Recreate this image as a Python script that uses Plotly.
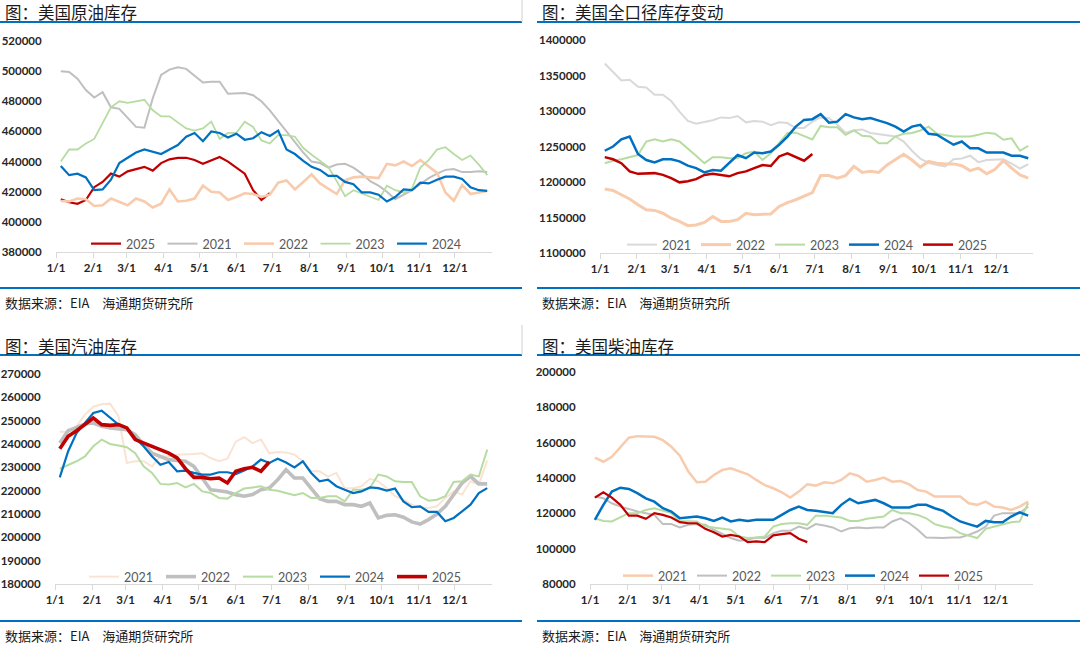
import plotly.graph_objects as go

# ---------------- data ----------------
MONTH_TICKS = [0, 31, 59, 90, 120, 151, 181, 212, 243, 273, 304, 334]
MONTH_LABELS = ["1/1", "2/1", "3/1", "4/1", "5/1", "6/1", "7/1", "8/1", "9/1", "10/1", "11/1", "12/1"]

# US crude oil inventories (thousand barrels), weekly
crude_2021 = [500000,499500,495000,487500,482500,486000,476000,475000,469000,463000,462500,482000,497500,501000,502500,501500,497000,492500,493000,493000,485000,485000,485500,484000,480000,474000,467000,460000,453000,446000,440000,439000,436000,438000,438500,436000,432000,427000,424000,420000,415000,418000,421000,425000,429000,432000,434500,435000,433000,433000,433500,433000]
crude_2022 = [413800,413500,415500,415000,410500,411000,415500,413500,411000,415500,413500,409500,412000,421500,413500,414000,415500,424000,420000,419500,414500,416500,419000,418500,416500,418000,426000,427500,421500,426500,431500,425500,422000,418500,427500,429500,430000,429500,429000,438500,437500,440000,437000,441000,436500,432500,419500,414000,424500,418500,419500,420500]
crude_2023 = [440000,448000,448000,452000,455000,466000,476000,480000,479000,480000,481000,474000,470000,470000,466000,462000,460500,462000,466500,455000,459000,459000,466500,463000,454000,452000,457500,457500,456500,449000,444500,440500,436500,427000,417000,421000,419000,416500,414500,424000,421000,419500,422000,436000,441000,448000,449500,445000,441000,444000,438000,431000]
crude_2024 = [437000,431000,432000,429500,421000,421500,428000,439000,442500,446000,448000,446500,445000,448000,451000,456500,459000,453500,460000,459000,456000,458500,454500,455500,459500,457000,460500,448000,445000,440500,436500,434500,430500,430500,426500,425000,419500,419500,418000,413500,416500,421500,421000,426000,425500,428000,430000,430000,428500,423000,421000,420500]
crude_2025 = [415000,413000,412000,414500,423000,426500,432000,430000,433500,435000,436500,434000,439000,441500,442500,442500,441000,438500,441000,443000,440000,436000,432000,421000,414500,419000]

# US total inventories
total_2021 = [1367000,1355000,1343000,1344000,1334000,1333000,1323000,1323000,1314000,1299000,1286000,1282000,1284000,1287000,1291000,1290000,1293000,1284000,1286000,1285000,1280000,1284000,1283000,1276000,1276000,1285000,1291000,1290000,1281000,1269000,1273000,1274000,1269000,1267000,1266000,1264000,1257000,1244000,1233000,1227000,1224000,1222000,1232000,1233000,1237000,1228000,1231000,1232000,1232000,1226000,1219000,1225000]
total_2022 = [1190000,1188000,1182000,1176000,1168000,1161000,1160000,1156000,1149000,1144500,1138500,1139500,1143000,1151500,1144500,1144500,1147000,1156000,1154000,1155000,1155000,1165500,1171000,1175000,1180500,1185000,1209000,1209000,1205500,1209000,1222000,1213500,1215000,1213500,1224000,1231000,1239000,1231000,1221000,1229000,1226500,1225500,1225500,1223000,1216000,1219500,1211500,1218000,1230000,1219500,1210000,1205500]
total_2023 = [1226500,1230000,1232000,1234500,1238000,1257000,1260000,1257000,1260000,1257000,1247500,1237000,1226500,1235000,1235000,1233500,1233500,1240500,1243000,1231000,1240500,1254500,1269000,1269500,1265000,1260000,1279000,1277000,1277000,1266500,1272500,1265000,1264000,1254500,1254500,1264000,1268000,1269000,1272500,1278000,1268000,1266500,1264000,1264000,1264000,1266500,1269500,1268000,1259500,1261500,1244000,1251000]
total_2024 = [1244000,1250000,1260000,1264000,1239500,1231000,1227500,1232000,1232000,1229000,1223000,1219500,1213500,1217000,1216000,1227500,1238000,1233500,1241500,1240500,1243000,1252500,1264000,1278000,1287500,1288500,1295500,1283500,1285000,1295500,1291000,1288500,1290000,1286500,1283000,1278000,1271000,1278000,1280500,1268000,1266500,1259500,1252500,1257000,1247500,1247500,1241500,1241500,1241500,1237000,1237000,1233500]
total_2025 = [1235000,1232000,1226500,1215000,1211500,1212500,1212500,1210000,1205500,1199500,1201000,1204000,1210000,1211500,1210000,1208000,1212500,1215000,1219500,1224000,1222500,1236000,1240500,1235000,1230000,1239500]

# US gasoline inventories
gas_2021 = [245400,245000,247600,252600,256000,257000,257300,251900,231900,232600,232600,230400,234700,234700,235400,235400,235700,236000,234000,232600,233700,241000,242900,240400,241900,236000,236600,236400,235400,232600,228300,228300,226000,227600,221000,221000,221900,225100,224000,221100,217600,216100,214000,212900,212600,213300,216900,219700,218300,224000,222600,233000]
gas_2022 = [240400,245700,247100,248600,249000,247600,246900,246600,246100,244000,239700,236100,234700,233300,232900,232600,230400,225400,220400,220000,219400,218300,217600,218300,220400,221100,224700,229000,225400,225400,221100,216600,215400,215400,214000,214000,213300,214700,208300,209400,209700,208600,206600,205700,207600,210000,213300,218300,223300,226100,222900,222900]
gas_2023 = [229400,231100,232600,234700,239000,241900,240000,239400,238600,236100,230400,227600,222900,222600,223300,221400,222900,219700,219000,216900,216600,219000,220900,221400,221900,220400,220000,219000,218000,219000,216900,216900,217600,217600,215400,220400,220400,221100,226900,226100,224000,223700,223700,217600,215700,216100,217600,223700,224000,226900,226100,237600]
gas_2024 = [225700,236900,244700,249000,253300,254300,251100,248300,246900,242600,239000,234700,231100,232300,228300,228600,227600,226900,226900,227900,227900,227100,228600,230400,233300,231900,233700,232100,230000,232600,227600,224000,224700,221900,220400,219000,219700,221400,221100,220000,220900,215400,212900,213300,210900,210900,206900,208300,211100,214000,219000,221100]
gas_2025 = [238000,243300,245700,248300,251100,248300,248000,248300,246900,241900,240400,239000,237600,236100,234000,229400,225700,225700,225100,225400,223300,228300,229400,230000,228300,232300]

# US distillate inventories
dist_2021 = [151500,149200,152000,157700,162800,163700,163300,163300,161400,157700,152600,143600,137600,137900,141700,144500,145500,144000,142100,138900,136000,134200,131900,128900,132300,136400,135700,137600,137000,138900,142600,141300,137900,138900,140200,137900,138300,136400,133200,132300,129500,129500,129500,129500,125700,124800,126600,123800,123300,121900,123800,126600]
dist_2022 = [129500,128500,125700,123800,122500,121000,120100,119100,113900,113900,112000,113500,113900,113500,110700,108200,106000,104500,105000,106300,106000,108800,110100,110100,112500,111200,113900,113100,112000,109700,111600,112000,111600,112000,112000,115400,117200,114400,110700,106300,106000,106000,106300,106300,107800,109700,112500,118700,120100,120100,120100,123800]
dist_2023 = [117200,115700,115400,117600,120100,120100,121900,122900,121400,120100,115700,115400,115400,112500,112000,111600,110700,106900,106000,106300,106900,112500,113900,114400,114400,113500,118700,118700,118200,117600,115700,115700,116900,117600,118200,121900,120100,120100,119100,117200,113900,112500,111600,108800,107500,106000,111200,112500,113500,115000,115400,125700]
dist_2024 = [116300,124800,132300,134500,133800,131400,128500,126600,122900,121000,117200,117600,118200,117200,115700,117600,115400,116300,115700,116300,116300,116300,119100,121900,123800,121900,121400,120600,120100,124800,128200,125700,126600,127600,125700,123300,123300,123300,124800,124800,122900,121400,118200,115400,113900,112500,115700,115000,115000,118200,120600,118700]
dist_2025 = [128900,131900,128900,124800,118700,118700,116900,120100,119100,117600,115000,114400,114400,111200,109300,106900,107800,106900,103700,104100,103700,107500,108200,108800,105600,103700]

# ---------------- styling ----------------
W, H = 1080, 645
def fx(x): return x / W
def fy(y): return 1 - y / H

BLUE = "#0070C0"
RED = "#C00000"
GRAY = "#BFBFBF"
LGRAY = "#D9D9D9"
PEACH = "#F8CBAD"
LPEACH = "#FBE3D3"
GREEN = "#B7DCA2"

TICKFONT = dict(family="Lato", size=11.5, color="#262626", weight="bold")
LEGFONT = dict(family="Lato", size=12.5, color="#595959")
CJK = "Noto Sans CJK SC"


def weeks(vals):
    return [4 + 7 * i for i in range(len(vals))]


panels = [
    dict(n=1, title="图：美国原油库存", tx=3, ty=12, rule=(0, 522, 22, 288), src_y=302,
         xd=(56, 492), yd=(252, 41), yr=(380000, 520000), dt=20000,
         leg=(86, 244), ew=31.5,
         series=[("2025", crude_2025, RED, 2.2), ("2021", crude_2021, GRAY, 2.0),
                 ("2022", crude_2022, PEACH, 2.6), ("2023", crude_2023, GREEN, 1.8),
                 ("2024", crude_2024, BLUE, 2.2)]),
    dict(n=2, title="图：美国全口径库存变动", tx=540, ty=12, rule=(537, 1080, 22, 288), src_y=302,
         xd=(600, 1033), yd=(253, 40), yr=(1100000, 1400000), dt=50000,
         leg=(622, 245), ew=29,
         series=[("2021", total_2021, LGRAY, 2.0), ("2022", total_2022, PEACH, 3.0),
                 ("2023", total_2023, GREEN, 2.0), ("2024", total_2024, BLUE, 2.5),
                 ("2025", total_2025, RED, 2.5)]),
    dict(n=3, title="图：美国汽油库存", tx=3, ty=346, rule=(0, 522, 355, 621), src_y=635,
         xd=(55, 492), yd=(584, 374), yr=(180000, 270000), dt=10000,
         leg=(84, 577), ew=32,
         series=[("2021", gas_2021, LPEACH, 2.0), ("2022", gas_2022, GRAY, 3.6),
                 ("2023", gas_2023, GREEN, 2.0), ("2024", gas_2024, BLUE, 2.2),
                 ("2025", gas_2025, RED, 3.6)]),
    dict(n=4, title="图：美国柴油库存", tx=540, ty=346, rule=(537, 1080, 355, 621), src_y=635,
         xd=(590, 1033), yd=(584, 372), yr=(80000, 200000), dt=20000,
         leg=(618, 576), ew=29,
         series=[("2021", dist_2021, PEACH, 2.5), ("2022", dist_2022, GRAY, 2.0),
                 ("2023", dist_2023, GREEN, 2.0), ("2024", dist_2024, BLUE, 2.5),
                 ("2025", dist_2025, RED, 2.2)]),
]

fig = go.Figure()
shapes = []
annotations = []
layout = {}

for p in panels:
    n = p["n"]
    sfx = "" if n == 1 else str(n)
    legname = "legend" if n == 1 else f"legend{n}"
    for name, vals, color, width in p["series"]:
        fig.add_trace(go.Scatter(
            x=weeks(vals), y=vals, name=name, mode="lines",
            line=dict(color=color, width=width),
            xaxis="x" + sfx, yaxis="y" + sfx, legend=legname,
            hoverinfo="skip"))
    layout["xaxis" + sfx] = dict(
        domain=[fx(p["xd"][0]), fx(p["xd"][1])], range=[0, 365], anchor="y" + sfx,
        tickvals=MONTH_TICKS, ticktext=MONTH_LABELS, tickmode="array",
        showline=True, linecolor=LGRAY, linewidth=1, ticks="outside", ticklen=5,
        tickcolor=LGRAY, showgrid=False, zeroline=False, tickfont=TICKFONT,
        fixedrange=True, automargin=False)
    layout["yaxis" + sfx] = dict(
        domain=[fy(p["yd"][0]), fy(p["yd"][1])], range=list(p["yr"]), anchor="x" + sfx,
        dtick=p["dt"], tick0=p["yr"][0], tickformat="d", showgrid=False, showline=False,
        zeroline=False, ticks="outside", ticklen=11, tickcolor="rgba(0,0,0,0)",
        tickfont=TICKFONT, fixedrange=True, automargin=False)
    layout[legname] = dict(
        orientation="h", x=fx(p["leg"][0]), y=fy(p["leg"][1]), xanchor="left",
        yanchor="middle", bgcolor="rgba(0,0,0,0)", font=LEGFONT,
        entrywidth=p["ew"], entrywidthmode="pixels", itemwidth=30,
        traceorder="normal")
    x0, x1, yt, yb = p["rule"]
    for yy in (yt, yb):
        shapes.append(dict(type="line", xref="paper", yref="paper", x0=fx(x0), x1=fx(x1),
                           y0=fy(yy), y1=fy(yy), line=dict(color=BLUE, width=2.2)))
    annotations.append(dict(text=p["title"], x=fx(p["tx"]), y=fy(p["ty"]), xref="paper",
                            yref="paper", xanchor="left", yanchor="middle", showarrow=False,
                            font=dict(family=CJK, size=16.5, color="#1a1a1a")))
    annotations.append(dict(text="数据来源：EIA　海通期货研究所", x=fx(p["tx"]), y=fy(p["src_y"]),
                            xref="paper", yref="paper", xanchor="left", yanchor="middle",
                            showarrow=False, font=dict(family=CJK, size=13, color="#1a1a1a")))

# faint separators at the right edge of left panels
for yy0, yy1 in ((0, 22), (325, 355)):
    shapes.append(dict(type="line", xref="paper", yref="paper", x0=fx(522), x1=fx(522),
                       y0=fy(yy0), y1=fy(yy1), line=dict(color="#D0D0D0", width=1)))

fig.update_layout(
    width=W, height=H, margin=dict(l=0, r=0, t=0, b=0, pad=0, autoexpand=False),
    paper_bgcolor="white", plot_bgcolor="white",
    shapes=shapes, annotations=annotations, showlegend=True,
    **layout)

fig.write_html("out.html", config={"displayModeBar": False, "staticPlot": True},
               post_script="document.body.style.margin='0px';document.body.style.overflow='hidden';")
